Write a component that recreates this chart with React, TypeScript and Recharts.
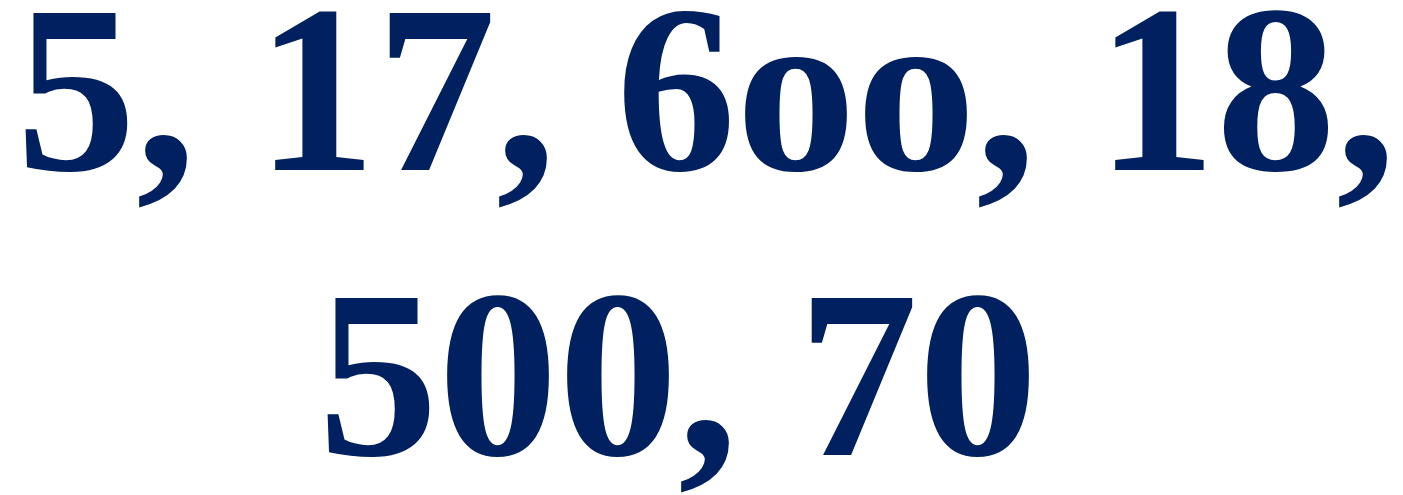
import { Surface, Text } from "recharts";

// numbers as they appear in the picture (the middle one is written "6oo")
const lineOne = ["5", "17", "6oo", "18"];
const lineTwo = ["500", "70"];

const WIDTH = 1403;
const HEIGHT = 495;
const FILL = "#002060";

const textStyle = {
  fontFamily: "'Liberation Serif', 'Times New Roman', serif",
  fontWeight: 700,
  fontSize: 240,
};

export default function App() {
  return (
    <div style={{ position: "absolute", left: 0, top: 0, width: WIDTH, height: HEIGHT, background: "#fff" }}>
      <Surface width={WIDTH} height={HEIGHT}>
        <Text x={16} y={170} textAnchor="start" verticalAnchor="end" fill={FILL} style={textStyle}>
          {lineOne.join(", ") + ","}
        </Text>
        <Text x={318} y={455} textAnchor="start" verticalAnchor="end" fill={FILL} style={textStyle}>
          {lineTwo.join(", ")}
        </Text>
      </Surface>
    </div>
  );
}
